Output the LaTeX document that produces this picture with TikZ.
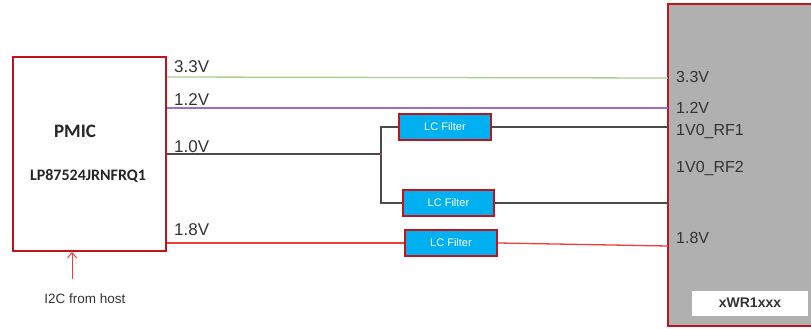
\documentclass[tikz,border=0pt]{standalone}
\usepackage{fontspec}
\setmainfont{Liberation Sans}
\newfontfamily\calib{Carlito}
\usetikzlibrary{arrows.meta}
\definecolor{boxred}{HTML}{C0141C}
\definecolor{filtblue}{HTML}{00B0F0}
\definecolor{chipgray}{HTML}{B0B0B0}
\definecolor{railgreen}{HTML}{A8D08D}
\definecolor{railpurple}{HTML}{9B6FC8}
\definecolor{railgray}{HTML}{4A4A4A}
\definecolor{railred}{HTML}{F03C3C}
\definecolor{txt}{HTML}{333333}
\tikzset{
  block/.style={draw=boxred, line width=2pt, inner sep=0pt},
  lcfilter/.style={block, line width=2.4pt, fill=filtblue, minimum width=92pt, minimum height=26pt,
    text=white, font=\fontsize{11}{12}\selectfont},
  rail/.style={line width=1.3pt},
  vlabel/.style={anchor=base west, inner sep=0pt, text=txt, font=\fontsize{17}{18}\selectfont},
  pinlabel/.style={anchor=base west, inner sep=0pt, text=txt, font=\fontsize{16}{17}\selectfont},
}
\begin{document}
\begin{tikzpicture}[x=1pt, y=-1pt]
\useasboundingbox (0,0) rectangle (811,329);
\clip (0,0) rectangle (811,329);

% power management IC
\node[block, fill=white, minimum width=153pt, minimum height=194pt] (pmic) at (89.5,154) {};
% radar device: it runs on past the right edge, so only three sides are outlined
\node[fill=chipgray, inner sep=0pt, minimum width=172pt, minimum height=322pt] (xwr) at (754,165) {};
\draw[draw=boxred, line width=2pt] (xwr.north east) -- (xwr.north west) -- (xwr.south west) -- (xwr.south east);
\node[fill=white, minimum width=116pt, minimum height=25pt, inner sep=0pt,
      font=\bfseries\fontsize{14}{15}\selectfont, text=txt] (part) at (750,303) {xWR1xxx};

\node[font=\calib\bfseries\fontsize{19}{20}\selectfont, text=black!85] (pmicname) at (75,131) {PMIC};
\node[font=\calib\bfseries\fontsize{16}{17}\selectfont, text=black!85] (pmicpart) at (88,176) {LP87524JRNFRQ1};

% filters
\node[lcfilter] (f1) at (445,127) {LC Filter};
\node[lcfilter, minimum width=91pt] (f2) at (448.5,203) {LC Filter};
\node[lcfilter] (f3) at (451,243) {LC Filter};

% supply rails
\draw[rail, railgreen] (pmic.east |- 0,77) -- (xwr.west |- 0,78);
\draw[rail, railpurple] (pmic.east |- 0,108) -- (xwr.west |- 0,108);
\coordinate (j) at (381,154);
\draw[rail, railgray] (pmic.east |- 0,154) -- (j);
\draw[rail, railgray] (j) |- (f1.west);
\draw[rail, railgray] (j) |- (f2.west);
\draw[rail, railgray] (f1.east) -- (xwr.west |- f1.east);
\draw[rail, railgray] (f2.east) -- (xwr.west |- f2.east);
\fill[railred] (j) circle (1.2pt);
\draw[rail, railred] (pmic.east |- f3.west) -- (f3.west);
\draw[rail, railred] (f3.east) -- (xwr.west |- 0,246);

% rail names at the PMIC side
\node[vlabel] (l33) at (174,72) {3.3V};
\node[vlabel] (l12) at (174,105) {1.2V};
\node[vlabel] (l10) at (174,152) {1.0V};
\node[vlabel] (l18) at (174,235) {1.8V};

% pin names on the device
\node[pinlabel] (p33) at (676,82) {3.3V};
\node[pinlabel] (p12) at (676,113) {1.2V};
\node[pinlabel] (prf1) at (676,135) {1V0\_RF1};
\node[pinlabel] (prf2) at (676,172) {1V0\_RF2};
\node[pinlabel] (p18) at (676,243) {1.8V};

% control interface
\node[font=\fontsize{13.5}{14}\selectfont, text=txt] (i2c) at (85,299) {I2C from host};
\coordinate (i2cstart) at (72,279);
\draw[railred, line width=1pt, -{Straight Barb[length=5pt,width=9pt]}] (i2cstart) -- (pmic.south -| i2cstart);
\end{tikzpicture}
\end{document}
